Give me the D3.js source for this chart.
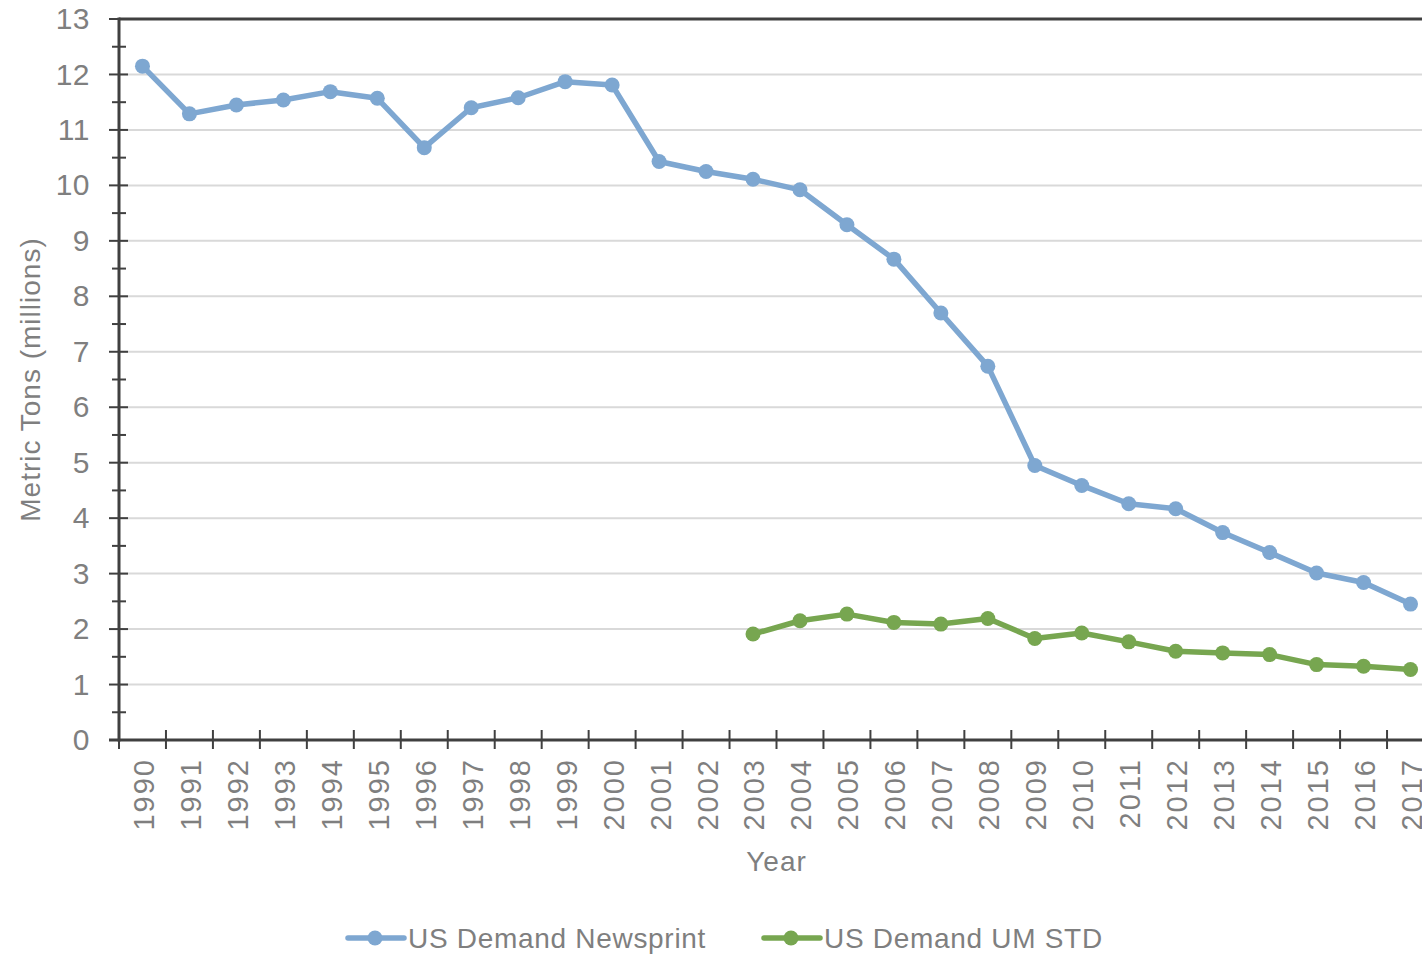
<!DOCTYPE html>
<html>
<head>
<meta charset="utf-8">
<script src="https://cdn.jsdelivr.net/npm/d3@7"></script>
<style>
  html, body { margin: 0; padding: 0; background: #fff; }
  svg { display: block; }
  text { font-family: "Liberation Sans", Arial, sans-serif; fill: #7f7f7f; }
</style>
</head>
<body>
<svg id="chart" width="1422" height="957"></svg>
<script>
const years = [1990,1991,1992,1993,1994,1995,1996,1997,1998,1999,2000,2001,2002,2003,2004,2005,2006,2007,2008,2009,2010,2011,2012,2013,2014,2015,2016,2017];
const newsprint = [12.15,11.29,11.45,11.54,11.69,11.57,10.68,11.40,11.58,11.87,11.81,10.43,10.25,10.11,9.92,9.29,8.67,7.70,6.74,4.95,4.59,4.26,4.17,3.74,3.38,3.01,2.84,2.45];
const umYears = [2003,2004,2005,2006,2007,2008,2009,2010,2011,2012,2013,2014,2015,2016,2017];
const umStd = [1.91,2.15,2.27,2.12,2.09,2.19,1.83,1.93,1.77,1.60,1.57,1.54,1.36,1.33,1.27];
const yTicks = [0,1,2,3,4,5,6,7,8,9,10,11,12,13];
const seriesNames = ["US Demand Newsprint", "US Demand UM STD"];
const colors = ["#7ea7d1", "#77a650"];

const svg = d3.select("#chart");
const pLeft = 119, pRight = 1434, pTop = 19, pBottom = 740;

const x = d3.scaleBand().domain(years).range([pLeft, pRight]).paddingInner(0).paddingOuter(0);
const cx = yr => x(yr) + x.bandwidth() / 2;
const y = d3.scaleLinear().domain([0, 13]).range([pBottom, pTop]);

// gridlines
svg.append("g").selectAll("line").data(yTicks.filter(v => v > 0 && v < 13)).join("line")
  .attr("x1", pLeft).attr("x2", pRight)
  .attr("y1", d => y(d)).attr("y2", d => y(d))
  .attr("stroke", "#d9d9d9").attr("stroke-width", 2);

// top border
svg.append("line").attr("x1", pLeft).attr("x2", pRight)
  .attr("y1", y(13)).attr("y2", y(13))
  .attr("stroke", "#404040").attr("stroke-width", 3);

// y axis labels
const yAxis = svg.append("g").attr("transform", `translate(${pLeft},0)`)
  .call(d3.axisLeft(y).tickValues(yTicks).tickSize(0).tickPadding(29).tickFormat(d3.format("d")));
yAxis.select(".domain").remove();
yAxis.selectAll("text").style("font-size", "30px").style("letter-spacing", "0.5px").attr("fill", "#7f7f7f");
// major tick marks crossing axis
svg.append("g").selectAll("line").data(yTicks).join("line")
  .attr("x1", pLeft - 10).attr("x2", pLeft + 9)
  .attr("y1", d => y(d)).attr("y2", d => y(d))
  .attr("stroke", "#404040").attr("stroke-width", 2);
// minor tick marks
const minor = d3.range(0.5, 13, 1);
svg.append("g").selectAll("line").data(minor).join("line")
  .attr("x1", pLeft - 7).attr("x2", pLeft + 7)
  .attr("y1", d => y(d)).attr("y2", d => y(d))
  .attr("stroke", "#404040").attr("stroke-width", 2);
svg.append("line").attr("x1", pLeft).attr("x2", pLeft).attr("y1", pTop - 1.5).attr("y2", pBottom + 1.5)
  .attr("stroke", "#404040").attr("stroke-width", 3);

// x axis
svg.append("line").attr("x1", pLeft - 10).attr("x2", pRight).attr("y1", pBottom).attr("y2", pBottom)
  .attr("stroke", "#404040").attr("stroke-width", 3);
const xTickPos = years.map(yr => x(yr)).concat([pRight]);
svg.append("g").selectAll("line").data(xTickPos).join("line")
  .attr("x1", d => d).attr("x2", d => d)
  .attr("y1", pBottom - 10).attr("y2", pBottom + 9)
  .attr("stroke", "#404040").attr("stroke-width", 2);
svg.append("g").selectAll("text").data(years).join("text")
  .attr("transform", d => `translate(${cx(d) + 1},758) rotate(-90)`)
  .attr("text-anchor", "end").attr("dy", "0.36em")
  .style("font-size", "29px").style("letter-spacing", "2px")
  .text(d => d);

// axis titles
svg.append("text").attr("transform", `translate(40,${(pTop + pBottom) / 2}) rotate(-90)`)
  .attr("text-anchor", "middle")
  .style("font-size", "28px").style("letter-spacing", "1px")
  .text("Metric Tons (millions)");
svg.append("text").attr("x", (pLeft + pRight) / 2).attr("y", 871)
  .attr("text-anchor", "middle")
  .style("font-size", "28px").style("letter-spacing", "1px")
  .text("Year");

// series
const line = d3.line().x(d => cx(d[0])).y(d => y(d[1]));
const series = [
  years.map((yr, i) => [yr, newsprint[i]]),
  umYears.map((yr, i) => [yr, umStd[i]])
];
series.forEach((s, i) => {
  svg.append("path").datum(s).attr("d", line)
    .attr("fill", "none").attr("stroke", colors[i]).attr("stroke-width", 5.5)
    .attr("stroke-linejoin", "round").attr("stroke-linecap", "round");
  svg.append("g").selectAll("circle").data(s).join("circle")
    .attr("cx", d => cx(d[0])).attr("cy", d => y(d[1])).attr("r", 7.5)
    .attr("fill", colors[i]);
});

// legend
const legendItems = [{x0: 348, tx: 408}, {x0: 764, tx: 824}];
legendItems.forEach((it, i) => {
  const g = svg.append("g");
  g.append("line").attr("x1", it.x0).attr("x2", it.x0 + 56).attr("y1", 938).attr("y2", 938)
    .attr("stroke", colors[i]).attr("stroke-width", 5.5).attr("stroke-linecap", "round");
  g.append("circle").attr("cx", it.x0 + 27).attr("cy", 938).attr("r", 7.5).attr("fill", colors[i]);
  g.append("text").attr("x", it.tx).attr("y", 938).attr("dy", "0.36em")
    .style("font-size", "28px").style("letter-spacing", "0.7px")
    .text(seriesNames[i]);
});
</script>
</body>
</html>
